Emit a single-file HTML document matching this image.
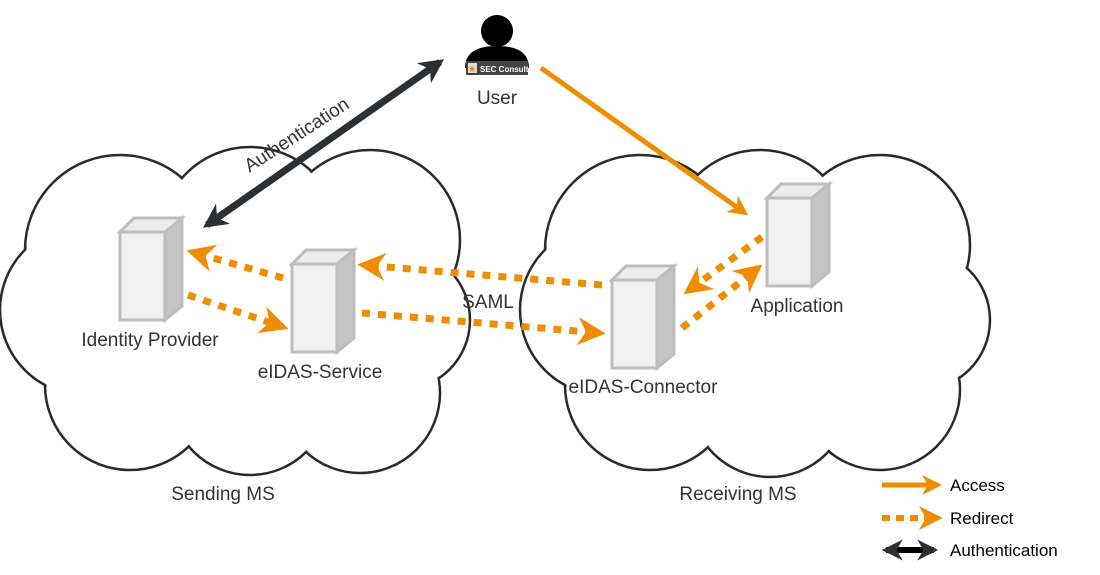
<!DOCTYPE html>
<html><head><meta charset="utf-8"><style>
html,body{margin:0;padding:0;background:#fff;}
svg{display:block;font-family:"Liberation Sans",sans-serif;}
</style></head><body>
<svg width="1100" height="575" viewBox="0 0 1100 575" xmlns="http://www.w3.org/2000/svg">
<defs>
<marker id="oa" viewBox="0 0 10 10" refX="8" refY="5" markerWidth="4" markerHeight="4" orient="auto-start-reverse" markerUnits="strokeWidth"><path d="M0,0 L10,5 L0,10 L3,5z" fill="#f08c00"/></marker>
<marker id="da" viewBox="0 0 10 10" refX="8" refY="5" markerWidth="3.5" markerHeight="3.5" orient="auto-start-reverse" markerUnits="strokeWidth"><path d="M0,0 L10,5 L0,10 L3,5z" fill="#2d3033"/></marker>
<g id="srv">
<rect x="0" y="14" width="45" height="88" fill="#f0f0f0" stroke="#bdbdbd" stroke-width="3"/>
<path d="M0,14 L14,0 L62,0 L45,14z" fill="#ececec" stroke="#bdbdbd" stroke-width="3"/>
<path d="M45,14 L62,0 L62,88 L45,102z" fill="#c4c4c4" stroke="#bdbdbd" stroke-width="3"/>
</g>
</defs>
<!-- clouds -->
<g fill="#fff" stroke="#2a2a2a" stroke-width="2.5">
<circle cx="120" cy="250" r="95"/><circle cx="250" cy="237" r="90"/><circle cx="370" cy="240" r="90"/><circle cx="400" cy="320" r="70"/><circle cx="360" cy="393" r="80"/><circle cx="250" cy="395" r="80"/><circle cx="130" cy="385" r="85"/><circle cx="85" cy="310" r="85"/>
<circle cx="640" cy="250" r="95"/><circle cx="760" cy="240" r="90"/><circle cx="880" cy="245" r="90"/><circle cx="920" cy="320" r="70"/><circle cx="880" cy="390" r="80"/><circle cx="770" cy="397" r="80"/><circle cx="650" cy="385" r="85"/><circle cx="605" cy="310" r="85"/>
</g>
<g fill="#fff">
<circle cx="120" cy="250" r="93.5"/><circle cx="250" cy="237" r="88.5"/><circle cx="370" cy="240" r="88.5"/><circle cx="400" cy="320" r="68.5"/><circle cx="360" cy="393" r="78.5"/><circle cx="250" cy="395" r="78.5"/><circle cx="130" cy="385" r="83.5"/><circle cx="85" cy="310" r="83.5"/>
<circle cx="640" cy="250" r="93.5"/><circle cx="760" cy="240" r="88.5"/><circle cx="880" cy="245" r="88.5"/><circle cx="920" cy="320" r="68.5"/><circle cx="880" cy="390" r="78.5"/><circle cx="770" cy="397" r="78.5"/><circle cx="650" cy="385" r="83.5"/><circle cx="605" cy="310" r="83.5"/>
<ellipse cx="240" cy="320" rx="180" ry="110"/>
<ellipse cx="760" cy="320" rx="180" ry="110"/>
</g>
<!-- servers -->
<use href="#srv" x="120" y="218"/>
<use href="#srv" x="292" y="250"/>
<use href="#srv" x="612" y="266"/>
<use href="#srv" x="767" y="184"/>
<!-- user -->
<circle cx="497" cy="31" r="16" fill="#000"/>
<path d="M465,68 Q465,46 497,46 Q529,46 529,68z" fill="#000"/>
<rect x="466" y="61" width="62" height="14" fill="#444"/>
<text x="480" y="72" font-size="8" fill="#fff" font-weight="bold">SEC Consult</text>
<rect x="468" y="63" width="9" height="10" fill="#ddd"/><text x="468" y="72" font-size="9" fill="#f08c00">★</text>
<text x="497" y="104" font-size="19" fill="#333" text-anchor="middle">User</text>
<!-- labels -->
<text x="150" y="346" font-size="19" fill="#333" text-anchor="middle">Identity Provider</text>
<text x="320" y="378" font-size="19" fill="#333" text-anchor="middle">eIDAS-Service</text>
<text x="643" y="393" font-size="19" fill="#333" text-anchor="middle">eIDAS-Connector</text>
<text x="797" y="312" font-size="19" fill="#333" text-anchor="middle">Application</text>
<text x="488" y="308" font-size="19" fill="#333" text-anchor="middle">SAML</text>
<text x="223" y="500" font-size="19" fill="#333" text-anchor="middle">Sending MS</text>
<text x="738" y="500" font-size="19" fill="#333" text-anchor="middle">Receiving MS</text>
<text x="300" y="140" font-size="19" fill="#333" text-anchor="middle" transform="rotate(-33 300 140)">Authentication</text>
<!-- arrows -->
<line x1="207" y1="225" x2="440" y2="62" stroke="#2d3033" stroke-width="7" marker-start="url(#da)" marker-end="url(#da)"/>
<line x1="541" y1="68" x2="745" y2="213" stroke="#f08c00" stroke-width="5" marker-end="url(#oa)"/>
<g stroke="#f08c00" stroke-width="7" stroke-dasharray="8 8" fill="none">
<line x1="283" y1="278" x2="192" y2="252" marker-end="url(#oa)"/>
<line x1="188" y1="295" x2="283" y2="327" marker-end="url(#oa)"/>
<line x1="602" y1="285" x2="363" y2="265" marker-end="url(#oa)"/>
<line x1="362" y1="313" x2="600" y2="333" marker-end="url(#oa)"/>
<line x1="762" y1="237" x2="688" y2="291" marker-end="url(#oa)"/>
<line x1="682" y1="328" x2="758" y2="268" marker-end="url(#oa)"/>
</g>
<!-- legend -->
<line x1="882" y1="485" x2="938" y2="485" stroke="#f08c00" stroke-width="5" marker-end="url(#oa)"/>
<line x1="882" y1="518" x2="938" y2="518" stroke="#f08c00" stroke-width="6" stroke-dasharray="8 6" marker-end="url(#oa)"/>
<line x1="886" y1="550" x2="934" y2="550" stroke="#000" stroke-width="6" marker-start="url(#da)" marker-end="url(#da)"/>
<text x="950" y="491" font-size="17" fill="#000">Access</text>
<text x="950" y="524" font-size="17" fill="#000">Redirect</text>
<text x="950" y="556" font-size="17" fill="#000">Authentication</text>
</svg>
</body></html>
